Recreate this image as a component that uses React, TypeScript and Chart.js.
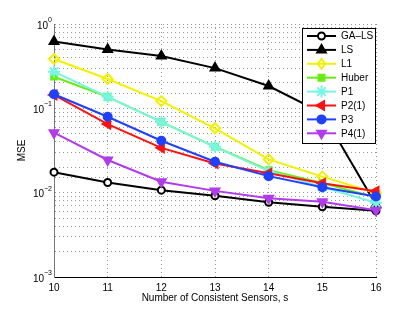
import React, { useEffect, useRef } from "react";
import { Chart, registerables } from "chart.js";

Chart.register(...registerables);

const sensors = [10, 11, 12, 13, 14, 15, 16];
const seriesNames = ["GA\u2013LS", "LS", "L1", "Huber", "P1", "P2(1)", "P3", "P4(1)"];
const gaLs = [0.0175, 0.0132, 0.0107, 0.0092, 0.0077, 0.0068, 0.0061];
const ls = [0.62, 0.5, 0.417, 0.3, 0.184, 0.088, 0.0072];
const l1 = [0.385, 0.223, 0.122, 0.058, 0.0248, 0.0155, 0.0099];
const huber = [0.237, 0.137, 0.069, 0.035, 0.0185, 0.013, 0.0088];
const p1 = [0.272, 0.137, 0.069, 0.035, 0.018, 0.0117, 0.0076];
const p2 = [0.144, 0.065, 0.034, 0.0222, 0.017, 0.0129, 0.0104];
const p3 = [0.147, 0.0795, 0.0413, 0.0233, 0.0157, 0.0116, 0.009];
const p4 = [0.0514, 0.0244, 0.0135, 0.0105, 0.0086, 0.0078, 0.0062];
const yTickExponents = [0, -1, -2, -3];

const FONT = "'Liberation Sans', Arial, Helvetica, sans-serif";

type Style = { color: string; fill: string; style: string; rot: number; r: number };
const styles: Style[] = [
  { color: "#000000", fill: "#ffffff", style: "circle", rot: 0, r: 3.5 },
  { color: "#000000", fill: "#000000", style: "triangle", rot: 0, r: 5 },
  { color: "#f2f200", fill: "rgba(255,255,255,0)", style: "rectRot", rot: 0, r: 5 },
  { color: "#66ee11", fill: "#66ee11", style: "rect", rot: 0, r: 4 },
  { color: "#77f7e3", fill: "#77f7e3", style: "star", rot: 0, r: 6 },
  { color: "#ff1010", fill: "#ff1010", style: "triangle", rot: -90, r: 5 },
  { color: "#2040ff", fill: "#2040ff", style: "circle", rot: 0, r: 4 },
  { color: "#b23aee", fill: "#b23aee", style: "triangle", rot: 180, r: 5 },
];
const allData = [gaLs, ls, l1, huber, p1, p2, p3, p4];

function drawMarker(ctx: CanvasRenderingContext2D, s: Style, x: number, y: number) {
  ctx.save();
  ctx.strokeStyle = s.color;
  ctx.fillStyle = s.fill;
  ctx.lineWidth = 2;
  ctx.beginPath();
  const r = s.r;
  if (s.style === "circle") {
    ctx.arc(x, y, r, 0, Math.PI * 2);
    ctx.fill();
    ctx.stroke();
  } else if (s.style === "rect") {
    const h = r * 0.75;
    ctx.rect(x - h, y - h, 2 * h, 2 * h);
    ctx.fill();
    ctx.stroke();
  } else if (s.style === "rectRot") {
    ctx.moveTo(x, y - r);
    ctx.lineTo(x + r * 0.75, y);
    ctx.lineTo(x, y + r);
    ctx.lineTo(x - r * 0.75, y);
    ctx.closePath();
    ctx.stroke();
  } else if (s.style === "star") {
    for (let i = 0; i < 4; i++) {
      const a = (i * Math.PI) / 4;
      ctx.moveTo(x + Math.cos(a) * r, y + Math.sin(a) * r);
      ctx.lineTo(x - Math.cos(a) * r, y - Math.sin(a) * r);
    }
    ctx.stroke();
  } else if (s.style === "triangle") {
    const a0 = (s.rot * Math.PI) / 180;
    for (let i = 0; i < 3; i++) {
      const a = a0 - Math.PI / 2 + (i * 2 * Math.PI) / 3;
      const px = x + Math.cos(a) * r;
      const py = y + Math.sin(a) * r;
      if (i === 0) ctx.moveTo(px, py);
      else ctx.lineTo(px, py);
    }
    ctx.closePath();
    ctx.fill();
    ctx.stroke();
  }
  ctx.restore();
}

const customPlugin = {
  id: "matlabLook",
  afterDraw(chart: any) {
    const ctx: CanvasRenderingContext2D = chart.ctx;
    const yScale = chart.scales.y;
    // y tick labels with superscripts
    ctx.save();
    ctx.fillStyle = "#000";
    ctx.textBaseline = "middle";
    yTickExponents.forEach((e) => {
      const py = yScale.getPixelForValue(Math.pow(10, e));
      const expStr = e === 0 ? "0" : "\u2212" + String(-e);
      ctx.font = `7px ${FONT}`;
      const ew = ctx.measureText(expStr).width;
      ctx.font = `10px ${FONT}`;
      const bw = ctx.measureText("10").width;
      const right = yScale.right - 2;
      ctx.textAlign = "left";
      ctx.fillText("10", right - ew - bw, py + 2);
      ctx.font = `7px ${FONT}`;
      ctx.fillText(expStr, right - ew, py - 4);
    });
    ctx.restore();

    // legend
    const area = chart.chartArea;
    const bx = area.right - 74;
    const by = area.top + 4;
    const bw = 73;
    const bh = 115;
    ctx.save();
    ctx.fillStyle = "#fff";
    ctx.fillRect(bx, by, bw, bh);
    ctx.strokeStyle = "#000";
    ctx.lineWidth = 1;
    ctx.strokeRect(bx + 0.5, by + 0.5, bw, bh);
    ctx.font = `10px ${FONT}`;
    ctx.textBaseline = "middle";
    ctx.textAlign = "left";
    seriesNames.forEach((name, i) => {
      const s = styles[i];
      const ry = by + 8 + i * 13.9;
      ctx.strokeStyle = s.color;
      ctx.lineWidth = 2;
      ctx.beginPath();
      ctx.moveTo(bx + 5, ry);
      ctx.lineTo(bx + 34, ry);
      ctx.stroke();
      drawMarker(ctx, s, bx + 19.5, ry);
      ctx.fillStyle = "#000";
      ctx.fillText(name, bx + 39, ry + 0.5);
    });
    ctx.restore();
  },
};

export default function App() {
  const ref = useRef<HTMLCanvasElement>(null);
  useEffect(() => {
    if (!ref.current) return;
    const chart = new Chart(ref.current, {
      type: "line",
      data: {
        labels: sensors.map(String),
        datasets: allData.map((d, i) => ({
          label: seriesNames[i],
          data: d,
          borderColor: styles[i].color,
          backgroundColor: styles[i].fill,
          pointBorderColor: styles[i].color,
          pointBackgroundColor: styles[i].fill,
          pointStyle: styles[i].style as any,
          pointRotation: styles[i].rot,
          pointRadius: styles[i].r,
          pointBorderWidth: 2,
          borderWidth: 2,
          tension: 0,
          order: 8 - i,
        })),
      },
      options: {
        animation: false,
        responsive: false,
        events: [],
        layout: { padding: { top: 24, right: 39, left: 0, bottom: 0 } },
        plugins: { legend: { display: false }, tooltip: { enabled: false } },
        scales: {
          x: {
            type: "category",
            offset: false,
            grid: { color: "#999", lineWidth: 1, drawTicks: false },
            border: { color: "#000", width: 1, dash: [1, 3] },
            ticks: { color: "#000", font: { size: 10, family: FONT }, padding: 5, maxRotation: 0 },
            title: {
              display: true,
              text: "Number of Consistent Sensors, s",
              color: "#000",
              font: { size: 10, family: FONT },
              padding: { top: 0, bottom: 8 },
            },
            afterFit: (s: any) => {
              s.height = 35;
            },
          },
          y: {
            type: "logarithmic",
            min: 0.001,
            max: 1,
            grid: { color: "#999", lineWidth: 1, drawTicks: false },
            border: { color: "#777", width: 1, dash: [1, 3] },
            ticks: { display: false },
            title: {
              display: true,
              text: "MSE",
              color: "#000",
              font: { size: 10, family: FONT },
              padding: { top: 16, bottom: 0 },
            },
            afterFit: (s: any) => {
              s.width = 54;
            },
          },
        },
      },
      plugins: [customPlugin],
    });
    return () => chart.destroy();
  }, []);
  return (
    <div style={{ position: "fixed", left: 0, top: 0, width: 415, height: 312, background: "#fff" }}>
      <canvas ref={ref} width={415} height={312} />
    </div>
  );
}
